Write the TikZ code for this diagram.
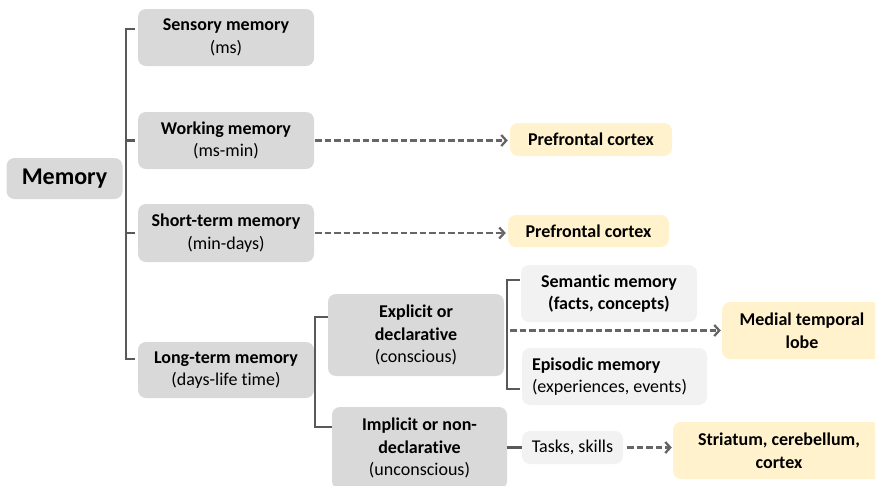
\documentclass[tikz,border=0pt]{standalone}
\usepackage{fontspec}
\setmainfont{Carlito}[Ligatures=NoCommon]
\usepackage{xcolor}
\usetikzlibrary{arrows.meta}

\definecolor{boxgrey}{HTML}{D9D9D9}
\definecolor{boxlight}{HTML}{F2F2F2}
\definecolor{boxyellow}{HTML}{FFF2CC}
\definecolor{linegrey}{HTML}{595959}
\definecolor{dashgrey}{HTML}{666666}

\begin{document}
\begin{tikzpicture}[x=1pt,y=-1pt,
    memblock/.style={rectangle,rounded corners=8pt,fill=boxgrey,inner sep=0pt,align=center,
        font=\fontsize{18}{22.5}\selectfont},
    subblock/.style={memblock,fill=boxlight},
    areablock/.style={memblock,fill=boxyellow},
    bracket/.style={draw=linegrey,line width=2.3pt},
    pointer/.style={draw=dashgrey,line width=2.3pt,dash pattern=on 6.5pt off 3pt,
        -{Straight Barb[length=5pt,width=11pt,line width=2.3pt]}}]
\begin{scope}
    \useasboundingbox (0,0) rectangle (875,485);
    \clip (0,0) rectangle (875,485);

    % memory types
    \node[memblock,minimum width=116,minimum height=41,font=\fontsize{24}{28}\selectfont\bfseries]
        (mem) at (64.5,178.5) {Memory};
    \node[memblock,minimum width=176,minimum height=57] (sens) at (226,37.5) {\textbf{Sensory memory}\\(ms)};
    \node[memblock,minimum width=176,minimum height=57] (work) at (226,140.5) {\textbf{Working memory}\\(ms-min)};
    \node[memblock,minimum width=176,minimum height=58] (short) at (226,233) {\textbf{Short-term memory}\\(min-days)};
    \node[memblock,minimum width=176,minimum height=56] (long) at (226,370) {\textbf{Long-term memory}\\(days-life time)};

    \node[memblock,minimum width=176,minimum height=82] (expl) at (416,335)
        {\textbf{Explicit or}\\\textbf{declarative}\\(conscious)};
    \node[memblock,minimum width=175,minimum height=82] (impl) at (419.5,448)
        {\textbf{Implicit or non-}\\\textbf{declarative}\\(unconscious)};

    \node[subblock,minimum width=176,minimum height=57,font=\fontsize{18}{22.5}\selectfont\bfseries]
        (sem) at (609,293.5) {Semantic memory\\(facts, concepts)};
    \node[subblock,minimum height=57,text width=165,inner xsep=10pt,align=flush left]
        (epi) at (614.5,376.5) {\textbf{Episodic memory}\\(experiences, events)};
    \node[subblock,minimum width=101,minimum height=33] (task) at (572.5,447.5) {Tasks, skills};

    % brain areas
    \node[areablock,minimum width=162,minimum height=33,font=\fontsize{18}{22.5}\selectfont\bfseries]
        (pfca) at (591,139.5) {Prefrontal cortex};
    \node[areablock,minimum width=161,minimum height=32,font=\fontsize{18}{22.5}\selectfont\bfseries]
        (pfcb) at (588.5,231) {Prefrontal cortex};
    \node[areablock,minimum width=160,minimum height=57,font=\fontsize{18}{22.5}\selectfont\bfseries]
        (mtl) at (802,330.5) {Medial temporal\\lobe};
    \node[areablock,minimum width=212,minimum height=57,font=\fontsize{18}{22.5}\selectfont\bfseries]
        (stri) at (779,450.5) {Striatum, cerebellum,\\cortex};

    % brackets
    \coordinate (spineAtop) at (126,29);
    \coordinate (spineAbot) at (126,359);
    \draw[bracket] ([xshift=-3]sens.west |- spineAtop) -- (spineAtop) -- (spineAbot)
        -- ([xshift=-3]long.west |- spineAbot);
    \draw[bracket] (spineAtop |- work) -- ([xshift=-3]work.west);
    \draw[bracket] (spineAtop |- short) -- ([xshift=-3]short.west);

    \coordinate (spineBtop) at (315,317);
    \coordinate (spineBbot) at (315,427);
    \draw[bracket] (expl.west |- spineBtop) -- (spineBtop) -- (spineBbot) -- (impl.west |- spineBbot);

    \coordinate (spineCtop) at (507,280);
    \coordinate (spineCbot) at (507,389);
    \draw[bracket] ([xshift=-1]sem.west |- spineCtop) -- (spineCtop) -- (spineCbot)
        -- ([xshift=-2]epi.west |- spineCbot);

    \draw[bracket] (impl.east |- task) -- (task.west);

    % pointers to brain areas
    \draw[pointer] ([xshift=1]work.east) -- ([xshift=-2]pfca.west |- work);
    \draw[pointer] ([xshift=1]short.east) -- ([xshift=-2]pfcb.west |- short);
    \draw[pointer] ([xshift=3]spineCtop |- mtl) -- ([xshift=-1]mtl.west);
    \draw[pointer] ([xshift=4]task.east) -- ([xshift=-1]stri.west |- task);

\end{scope}
\end{tikzpicture}
\end{document}
